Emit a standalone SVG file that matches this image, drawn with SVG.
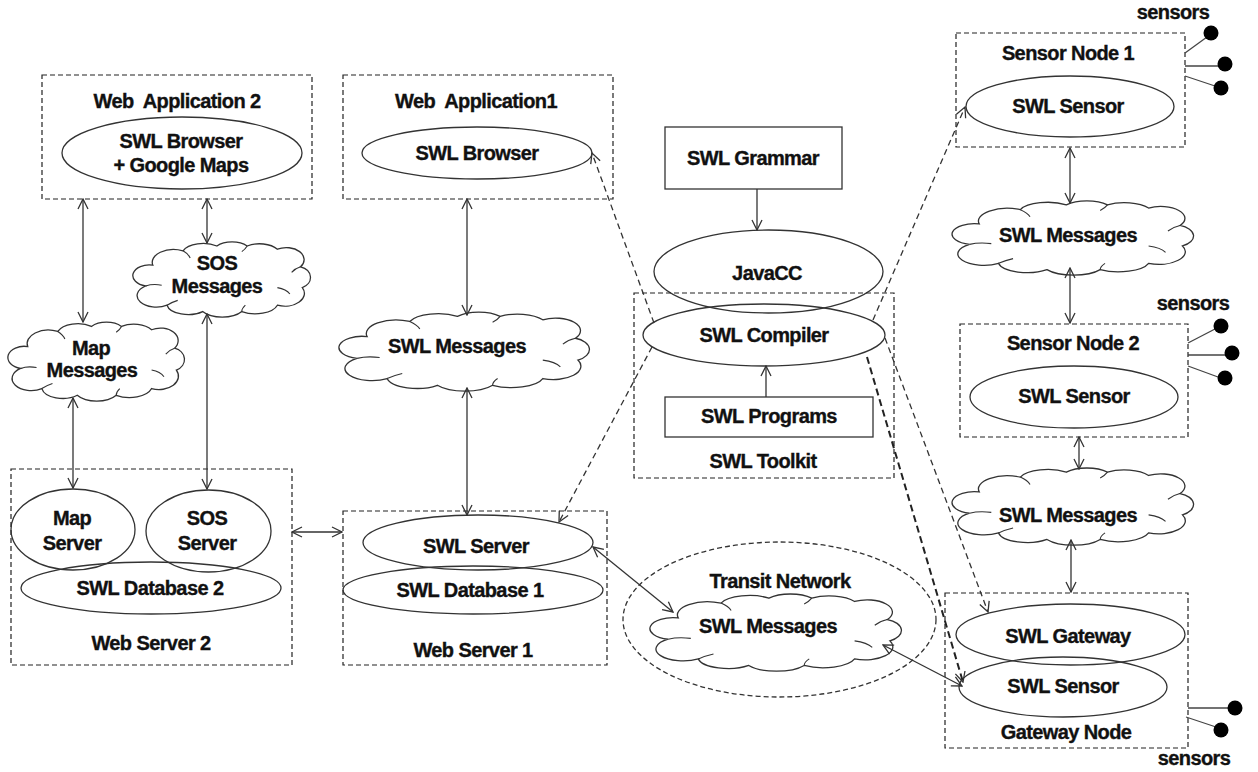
<svg xmlns="http://www.w3.org/2000/svg" xmlns:xlink="http://www.w3.org/1999/xlink" width="1258" height="772" viewBox="0 0 1258 772">
  <style>
    .t { font-family: "Liberation Sans", Arial, sans-serif; font-weight: bold; font-size: 20px; letter-spacing: -0.6px; fill: #111; stroke: #111; stroke-width: 0.35px; text-anchor: middle; }
    .box { fill: none; stroke: #222; stroke-width: 1.2; stroke-dasharray: 5 3; }
    .solidbox { fill: #fff; stroke: #333; stroke-width: 1.3; }
    .ell { fill: none; stroke: #333; stroke-width: 1.3; }
    .cloud { fill: #fff; stroke: #333; stroke-width: 1.3; vector-effect: non-scaling-stroke; }
    .cloudin { fill: none; stroke: #333; stroke-width: 1.1; vector-effect: non-scaling-stroke; }
    .link { fill: none; stroke: #333; stroke-width: 1.3; }
    .dash { fill: none; stroke: #333; stroke-width: 1.3; stroke-dasharray: 6 4; }
    .dashbold { fill: none; stroke: #222; stroke-width: 2; stroke-dasharray: 7 4; }
    .dot { fill: #000; }
    .stem { stroke: #444; stroke-width: 1.3; }
  </style>
  <defs>
    <marker id="arr" viewBox="0 0 12 12" refX="11" refY="6" markerWidth="12" markerHeight="12" markerUnits="userSpaceOnUse" orient="auto-start-reverse">
      <path d="M1,1 L11,6 L1,11" fill="none" stroke="#333" stroke-width="1.3"/>
    </marker>
    <!-- cloud outline in a 100x100 box, scaled per instance -->
    <g id="cloud">
      <path class="cloud" d="M 6,60 A 9,13 0 0 1 10,34 A 12,16 0 0 1 27,16 A 12,14 0 0 1 46,10 A 11,14 0 0 1 63,10 A 12,15 0 0 1 80,14 A 10,15 0 0 1 93,36 A 8,14 0 0 1 94,62 A 11,16 0 0 1 80,84 A 13,15 0 0 1 60,92 A 13,15 0 0 1 38,92 A 12,14 0 0 1 18,84 A 9,12 0 0 1 6,60 Z"/>
      <path class="cloudin" d="M 6,60 Q 10,57 15,59 M 27,16 Q 30,20 31,25 M 63,10 Q 62,14 60,17 M 93,36 Q 90,38 88,43 M 80,62 Q 85,64 87,70 M 60,92 Q 60,88 62,84 M 18,84 Q 21,80 24,78"/>
    </g>
  </defs>

  <rect width="1258" height="772" fill="#fff"/>

  <!-- Web Application 2 -->
  <g id="webapp2">
    <rect class="box" x="42" y="75" width="270" height="124"/>
    <text class="t" x="177" y="108" xml:space="preserve">Web  Application 2</text>
    <ellipse class="ell" cx="182" cy="153" rx="120" ry="36"/>
    <text class="t" x="181" y="148">SWL Browser</text>
    <text class="t" x="181" y="172">+ Google Maps</text>
  </g>

  <!-- Web Application 1 -->
  <g id="webapp1">
    <rect class="box" x="343" y="75" width="270" height="124"/>
    <text class="t" x="476" y="108" xml:space="preserve">Web  Application1</text>
    <ellipse class="ell" cx="477" cy="153" rx="115" ry="26"/>
    <text class="t" x="477" y="160">SWL Browser</text>
  </g>

  <!-- message clouds -->
  <g id="sos-messages">
    <use xlink:href="#cloud" transform="translate(135,238) scale(1.78,0.8)"/>
    <text class="t" x="217" y="270">SOS</text>
    <text class="t" x="217" y="293">Messages</text>
  </g>
  <g id="map-messages">
    <use xlink:href="#cloud" transform="translate(10,318) scale(1.77,0.84)"/>
    <text class="t" x="91" y="355">Map</text>
    <text class="t" x="92" y="377">Messages</text>
  </g>
  <g id="swl-messages-web">
    <use xlink:href="#cloud" transform="translate(342,308) scale(2.51,0.84)"/>
    <text class="t" x="457" y="353">SWL Messages</text>
  </g>

  <!-- SWL Toolkit -->
  <g id="grammar">
    <rect class="solidbox" x="665" y="127" width="177" height="62"/>
    <text class="t" x="753" y="165">SWL Grammar</text>
  </g>
  <g id="javacc">
    <ellipse class="ell" cx="768.5" cy="271.5" rx="114.5" ry="41.5"/>
    <text class="t" x="767" y="280">JavaCC</text>
  </g>
  <g id="toolkit">
    <rect class="box" x="634" y="293" width="260" height="185"/>
    <ellipse class="ell" cx="764" cy="335" rx="121" ry="31"/>
    <text class="t" x="764" y="342">SWL Compiler</text>
    <rect class="solidbox" x="665" y="397" width="208" height="40"/>
    <text class="t" x="769" y="423">SWL Programs</text>
    <text class="t" x="763" y="468">SWL Toolkit</text>
  </g>

  <!-- Web Server 2 -->
  <g id="webserver2">
    <rect class="box" x="11" y="469" width="281" height="196"/>
    <ellipse class="ell" cx="73" cy="529.5" rx="62" ry="40.5"/>
    <text class="t" x="72" y="525">Map</text>
    <text class="t" x="72" y="550">Server</text>
    <ellipse class="ell" cx="208.5" cy="531" rx="62.5" ry="41"/>
    <text class="t" x="207" y="525">SOS</text>
    <text class="t" x="207" y="550">Server</text>
    <ellipse class="ell" cx="151" cy="588" rx="130" ry="26"/>
    <text class="t" x="150" y="595">SWL Database 2</text>
    <text class="t" x="151" y="650">Web Server 2</text>
  </g>

  <!-- Web Server 1 -->
  <g id="webserver1">
    <rect class="box" x="343" y="511" width="264" height="154"/>
    <ellipse class="ell" cx="478" cy="542.5" rx="115" ry="27.5"/>
    <text class="t" x="476" y="553">SWL Server</text>
    <ellipse class="ell" cx="473" cy="590" rx="130" ry="24"/>
    <text class="t" x="470" y="597">SWL Database 1</text>
    <text class="t" x="473" y="657">Web Server 1</text>
  </g>

  <!-- Transit Network -->
  <g id="transit">
    <ellipse class="ell" cx="779.5" cy="619.5" rx="156.5" ry="77.5" stroke-dasharray="5 3"/>
    <text class="t" x="780" y="588">Transit Network</text>
    <use xlink:href="#cloud" transform="translate(653,590) scale(2.52,0.82)"/>
    <text class="t" x="768" y="633">SWL Messages</text>
  </g>

  <!-- Sensor Node 1 -->
  <g id="sensornode1">
    <rect class="box" x="956" y="33" width="229" height="114"/>
    <text class="t" x="1068" y="60">Sensor Node 1</text>
    <ellipse class="ell" cx="1070" cy="106.5" rx="104" ry="30.5"/>
    <text class="t" x="1068" y="113">SWL Sensor</text>
    <text class="t" x="1173" y="19">sensors</text>
    <line class="stem" x1="1185" y1="53" x2="1207" y2="37"/>
    <line class="stem" x1="1185" y1="66" x2="1218" y2="66"/>
    <line class="stem" x1="1185" y1="76" x2="1215" y2="86"/>
    <circle class="dot" cx="1211" cy="33" r="7.5"/>
    <circle class="dot" cx="1225" cy="64" r="7.5"/>
    <circle class="dot" cx="1221" cy="88" r="7.5"/>
  </g>
  <g id="swl-messages-1">
    <use xlink:href="#cloud" transform="translate(955,197) scale(2.42,0.79)"/>
    <text class="t" x="1068" y="242">SWL Messages</text>
  </g>

  <!-- Sensor Node 2 -->
  <g id="sensornode2">
    <rect class="box" x="960" y="324" width="228" height="113"/>
    <text class="t" x="1073" y="350">Sensor Node 2</text>
    <ellipse class="ell" cx="1074" cy="397" rx="104" ry="31"/>
    <text class="t" x="1074" y="403">SWL Sensor</text>
    <text class="t" x="1193" y="310">sensors</text>
    <line class="stem" x1="1188" y1="343" x2="1215" y2="329"/>
    <line class="stem" x1="1188" y1="355" x2="1226" y2="355"/>
    <line class="stem" x1="1188" y1="366" x2="1218" y2="377"/>
    <circle class="dot" cx="1221" cy="326" r="7.5"/>
    <circle class="dot" cx="1232" cy="353" r="7.5"/>
    <circle class="dot" cx="1225" cy="378" r="7.5"/>
  </g>
  <g id="swl-messages-2">
    <use xlink:href="#cloud" transform="translate(955,464) scale(2.42,0.82)"/>
    <text class="t" x="1068" y="522">SWL Messages</text>
  </g>

  <!-- Gateway Node -->
  <g id="gatewaynode">
    <rect class="box" x="945" y="593" width="243" height="155"/>
    <ellipse class="ell" cx="1070.5" cy="634.5" rx="114.5" ry="30.5"/>
    <text class="t" x="1068" y="643">SWL Gateway</text>
    <ellipse class="ell" cx="1063" cy="687" rx="104" ry="30"/>
    <text class="t" x="1063" y="693">SWL Sensor</text>
    <text class="t" x="1066" y="739">Gateway Node</text>
    <line class="stem" x1="1188" y1="708" x2="1229" y2="708"/>
    <line class="stem" x1="1186" y1="717" x2="1216" y2="727"/>
    <circle class="dot" cx="1235" cy="708" r="7.5"/>
    <circle class="dot" cx="1221" cy="730" r="7.5"/>
    <text class="t" x="1194" y="765">sensors</text>
  </g>

  <!-- connectors, drawn last so arrowheads stay on top of the clouds -->
  <g id="connectors">
    <line class="link" x1="83" y1="199" x2="83" y2="322" marker-start="url(#arr)" marker-end="url(#arr)"/>
    <line class="link" x1="207" y1="199" x2="207" y2="243" marker-start="url(#arr)" marker-end="url(#arr)"/>
    <line class="link" x1="73" y1="398" x2="73" y2="488" marker-start="url(#arr)" marker-end="url(#arr)"/>
    <line class="link" x1="207" y1="314" x2="207" y2="489" marker-start="url(#arr)" marker-end="url(#arr)"/>
    <line class="link" x1="467" y1="199" x2="467" y2="315" marker-start="url(#arr)" marker-end="url(#arr)"/>
    <line class="link" x1="467" y1="388" x2="467" y2="515" marker-start="url(#arr)" marker-end="url(#arr)"/>
    <line class="link" x1="292" y1="532" x2="342" y2="532" marker-start="url(#arr)" marker-end="url(#arr)"/>
    <line class="link" x1="593" y1="547" x2="673" y2="612" marker-start="url(#arr)" marker-end="url(#arr)"/>
    <line class="link" x1="883" y1="645" x2="962" y2="686" marker-start="url(#arr)" marker-end="url(#arr)"/>
    <line class="link" x1="1070" y1="148" x2="1070" y2="203" marker-start="url(#arr)" marker-end="url(#arr)"/>
    <line class="link" x1="1070" y1="268" x2="1070" y2="323" marker-start="url(#arr)" marker-end="url(#arr)"/>
    <line class="link" x1="1079" y1="437" x2="1079" y2="469" marker-start="url(#arr)" marker-end="url(#arr)"/>
    <line class="link" x1="1071" y1="540" x2="1071" y2="592" marker-start="url(#arr)" marker-end="url(#arr)"/>
    <line class="link" x1="757" y1="189" x2="757" y2="230" marker-end="url(#arr)"/>
    <line class="link" x1="766" y1="397" x2="766" y2="366" marker-end="url(#arr)"/>
    <line class="dash" x1="654" y1="323" x2="592" y2="153" marker-end="url(#arr)"/>
    <line class="dash" x1="652" y1="347" x2="559" y2="522" marker-end="url(#arr)"/>
    <line class="dash" x1="873" y1="320" x2="965" y2="107" marker-end="url(#arr)"/>
    <line class="dash" x1="885" y1="338" x2="988" y2="612" marker-end="url(#arr)"/>
    <line class="dashbold" x1="867" y1="357" x2="963" y2="682" marker-end="url(#arr)"/>
  </g>
</svg>
